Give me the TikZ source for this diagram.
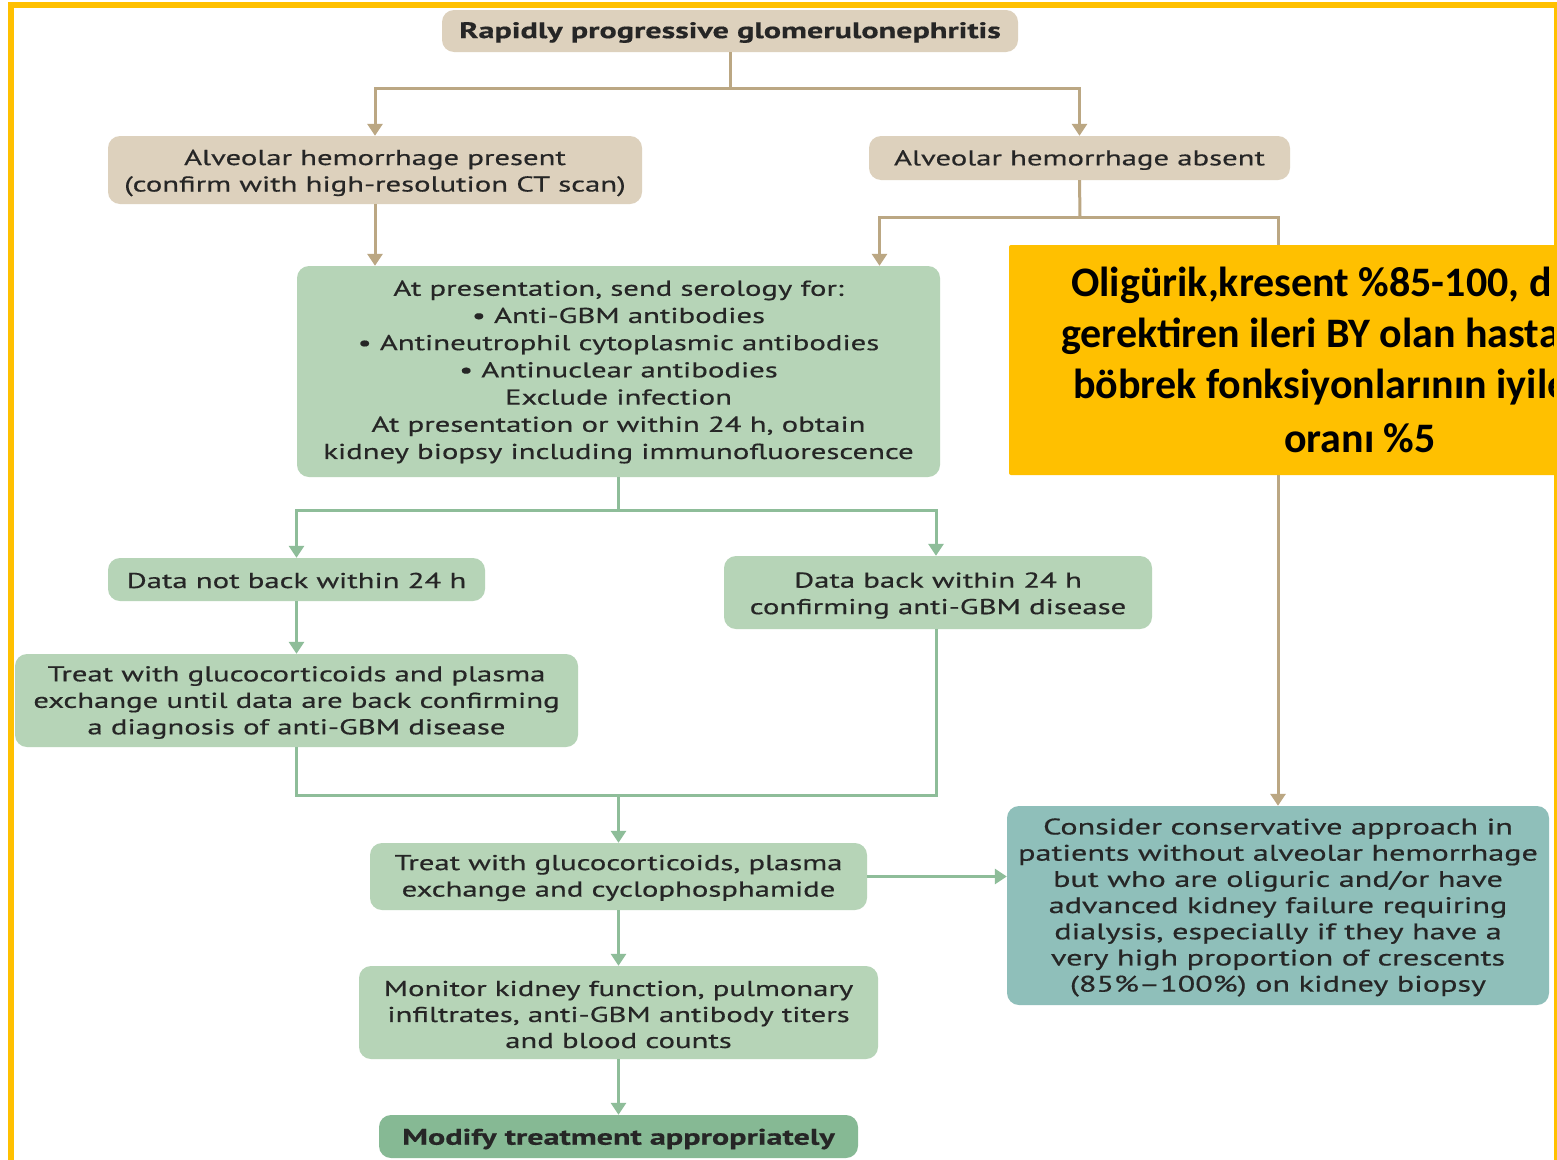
\documentclass[tikz,border=0pt]{standalone}
\usepackage{fontspec}
\setmainfont[FakeStretch=1.43,FakeBold=0.5]{PT Sans}
\newfontfamily\yfont{Carlito}
\usetikzlibrary{arrows.meta}
\definecolor{tanfill}{HTML}{DDD1BD}
\definecolor{tanline}{HTML}{BBA783}
\definecolor{grnfill}{HTML}{B6D4B7}
\definecolor{grnline}{HTML}{8EBD99}
\definecolor{darkgrn}{HTML}{86B994}
\definecolor{tealfill}{HTML}{8FBFBA}
\definecolor{ybox}{HTML}{FFC000}
\definecolor{txt}{HTML}{262626}
\tikzset{
  box/.style={rounded corners=12pt, inner sep=0pt},
  tanbox/.style={box, fill=tanfill},
  grnbox/.style={box, fill=grnfill},
  lbl/.style={inner sep=0pt, align=center, text=txt,
    font=\fontsize{21.5}{26.5}\selectfont},
  blbl/.style={lbl, font=\bfseries\fontsize{22.5}{26.5}\selectfont},
  tanconn/.style={draw=tanline, line width=3pt},
  grnconn/.style={draw=grnline, line width=3pt},
  tanarr/.style={tanconn, -{Triangle[width=15pt,length=12pt]}},
  grnarr/.style={grnconn, -{Triangle[width=15pt,length=12pt]}},
  yline/.style={anchor=west, inner sep=0pt, text=black,
    font=\yfont\bfseries\fontsize{42}{51}\selectfont}
}
\begin{document}
\begin{tikzpicture}[x=1pt,y=-1pt]
\useasboundingbox (0,0) rectangle (1557,1159);
\clip (0,0) rectangle (1557,1159);
\fill[white] (0,0) rectangle (1557,1159);

% boxes
\node[tanbox, minimum width=576pt, minimum height=42pt] (top) at (730,31) {};
\node[tanbox, minimum width=534pt, minimum height=68pt] (pres) at (375,170) {};
\node[tanbox, minimum width=421pt, minimum height=44pt] (abs) at (1079.5,158) {};
\node[grnbox, minimum width=643pt, minimum height=211pt] (sero) at (618.5,371.5) {};
\node[grnbox, minimum width=377pt, minimum height=43pt] (notback) at (296.5,579.5) {};
\node[grnbox, minimum width=428pt, minimum height=73pt] (back) at (938,592.5) {};
\node[grnbox, minimum width=563pt, minimum height=93pt] (treat1) at (296.5,700.5) {};
\node[grnbox, minimum width=497pt, minimum height=67pt] (treat2) at (618.5,876.5) {};
\node[box, fill=tealfill, minimum width=542pt, minimum height=199pt] (cons) at (1278,905.5) {};
\node[grnbox, minimum width=519pt, minimum height=93pt] (mon) at (618.5,1012.5) {};
\node[box, fill=darkgrn, minimum width=479pt, minimum height=43pt] (mod) at (618.5,1136.5) {};

% texts
\node[blbl] (topt) at ([yshift=-1.5pt]top.center) {Rapidly progressive glomerulonephritis};
\node[lbl] (prest) at ([yshift=-3pt]pres.center) {Alveolar hemorrhage present\\(confirm with high-resolution CT scan)};
\node[lbl] (abst) at ([yshift=-2pt]abs.center) {Alveolar hemorrhage absent};
\node[lbl, font=\fontsize{21.5}{27.2}\selectfont] (serot) at ([yshift=-0.5pt]sero.center) {At presentation, send serology for:\\
  \textbullet\ Anti-GBM antibodies\\
  \textbullet\ Antineutrophil cytoplasmic antibodies\\
  \textbullet\ Antinuclear antibodies\\
  Exclude infection\\
  At presentation or within 24 h, obtain\\
  kidney biopsy including immunofluorescence};
\node[lbl] (notbackt) at ([yshift=-1pt]notback.center) {Data not back within 24 h};
\node[lbl] (backt) at ([yshift=-3pt]back.center) {Data back within 24 h\\confirming anti-GBM disease};
\node[lbl] (treat1t) at ([yshift=-2pt]treat1.center) {Treat with glucocorticoids and plasma\\exchange until data are back confirming\\a diagnosis of anti-GBM disease};
\node[lbl] (treat2t) at ([yshift=-1.5pt]treat2.center) {Treat with glucocorticoids, plasma\\exchange and cyclophosphamide};
\node[lbl, font=\fontsize{22.5}{26.2}\selectfont] (const) at ([yshift=-2pt]cons.center) {Consider conservative approach in\\
  patients without alveolar hemorrhage\\
  but who are oliguric and/or have\\
  advanced kidney failure requiring\\
  dialysis, especially if they have a\\
  very high proportion of crescents\\
  (85\%--100\%) on kidney biopsy};
\node[lbl, font=\fontsize{21.5}{26}\selectfont] (mont) at ([yshift=-2pt]mon.center) {Monitor kidney function, pulmonary\\infiltrates, anti-GBM antibody titers\\and blood counts};
\node[blbl] (modt) at ([yshift=-2.5pt]mod.center) {Modify treatment appropriately};

% junction coordinates
\coordinate (j1) at (730,88);
\coordinate (j2) at (1080,217);
\coordinate (j3) at (618.5,510);
\coordinate (j4) at (618.5,795);

% tan connectors
\draw[tanconn] (top.south) -- (j1);
\draw[tanarr] (j1) -| (pres.north);
\draw[tanarr] (j1) -| (abs.north);
\draw[tanarr] (pres.south) -- (pres.south |- sero.north);
\draw[tanconn] (abs.south) -- (j2);
\draw[tanarr] (j2) -| ([xshift=-200pt]abs.south |- sero.north);
\draw[tanarr] (j2) -| (cons.north);

% green connectors
\draw[grnconn] (sero.south) -- (j3);
\draw[grnarr] (j3) -| (notback.north);
\draw[grnarr] (j3) -| ([xshift=-2pt]back.north);
\draw[grnarr] (notback.south) -- (treat1.north);
\draw[grnconn] (treat1.south) |- (j4);
\draw[grnconn] ([xshift=-2pt]back.south) |- (j4);
\draw[grnarr] (j4) -- (treat2.north);
\draw[grnarr] (treat2.east) -- (treat2.east -| cons.west);
\draw[grnarr] (treat2.south) -- (mon.north);
\draw[grnarr] (mon.south) -- (mod.north);

% yellow overlay box
\fill[ybox, rounded corners=2pt] (1009,245) rectangle (1580,475);
\node[yline] (y1) at (1071,285) {Oligürik,kresent \%85-100, d};
\node[yline] (y2) at (1061,336) {gerektiren ileri BY olan hasta};
\node[yline] (y3) at (1073,387) {böbrek fonksiyonlarının iyile};
\node[yline] (y4) at (1284,438) {oranı \%5};

% frame
\draw[ybox, line width=6pt] (11,1170) -- (11,5) -- (1570,5);
\draw[ybox, line width=3pt] (1555.5,5) -- (1555.5,1170);
\end{tikzpicture}
\end{document}
